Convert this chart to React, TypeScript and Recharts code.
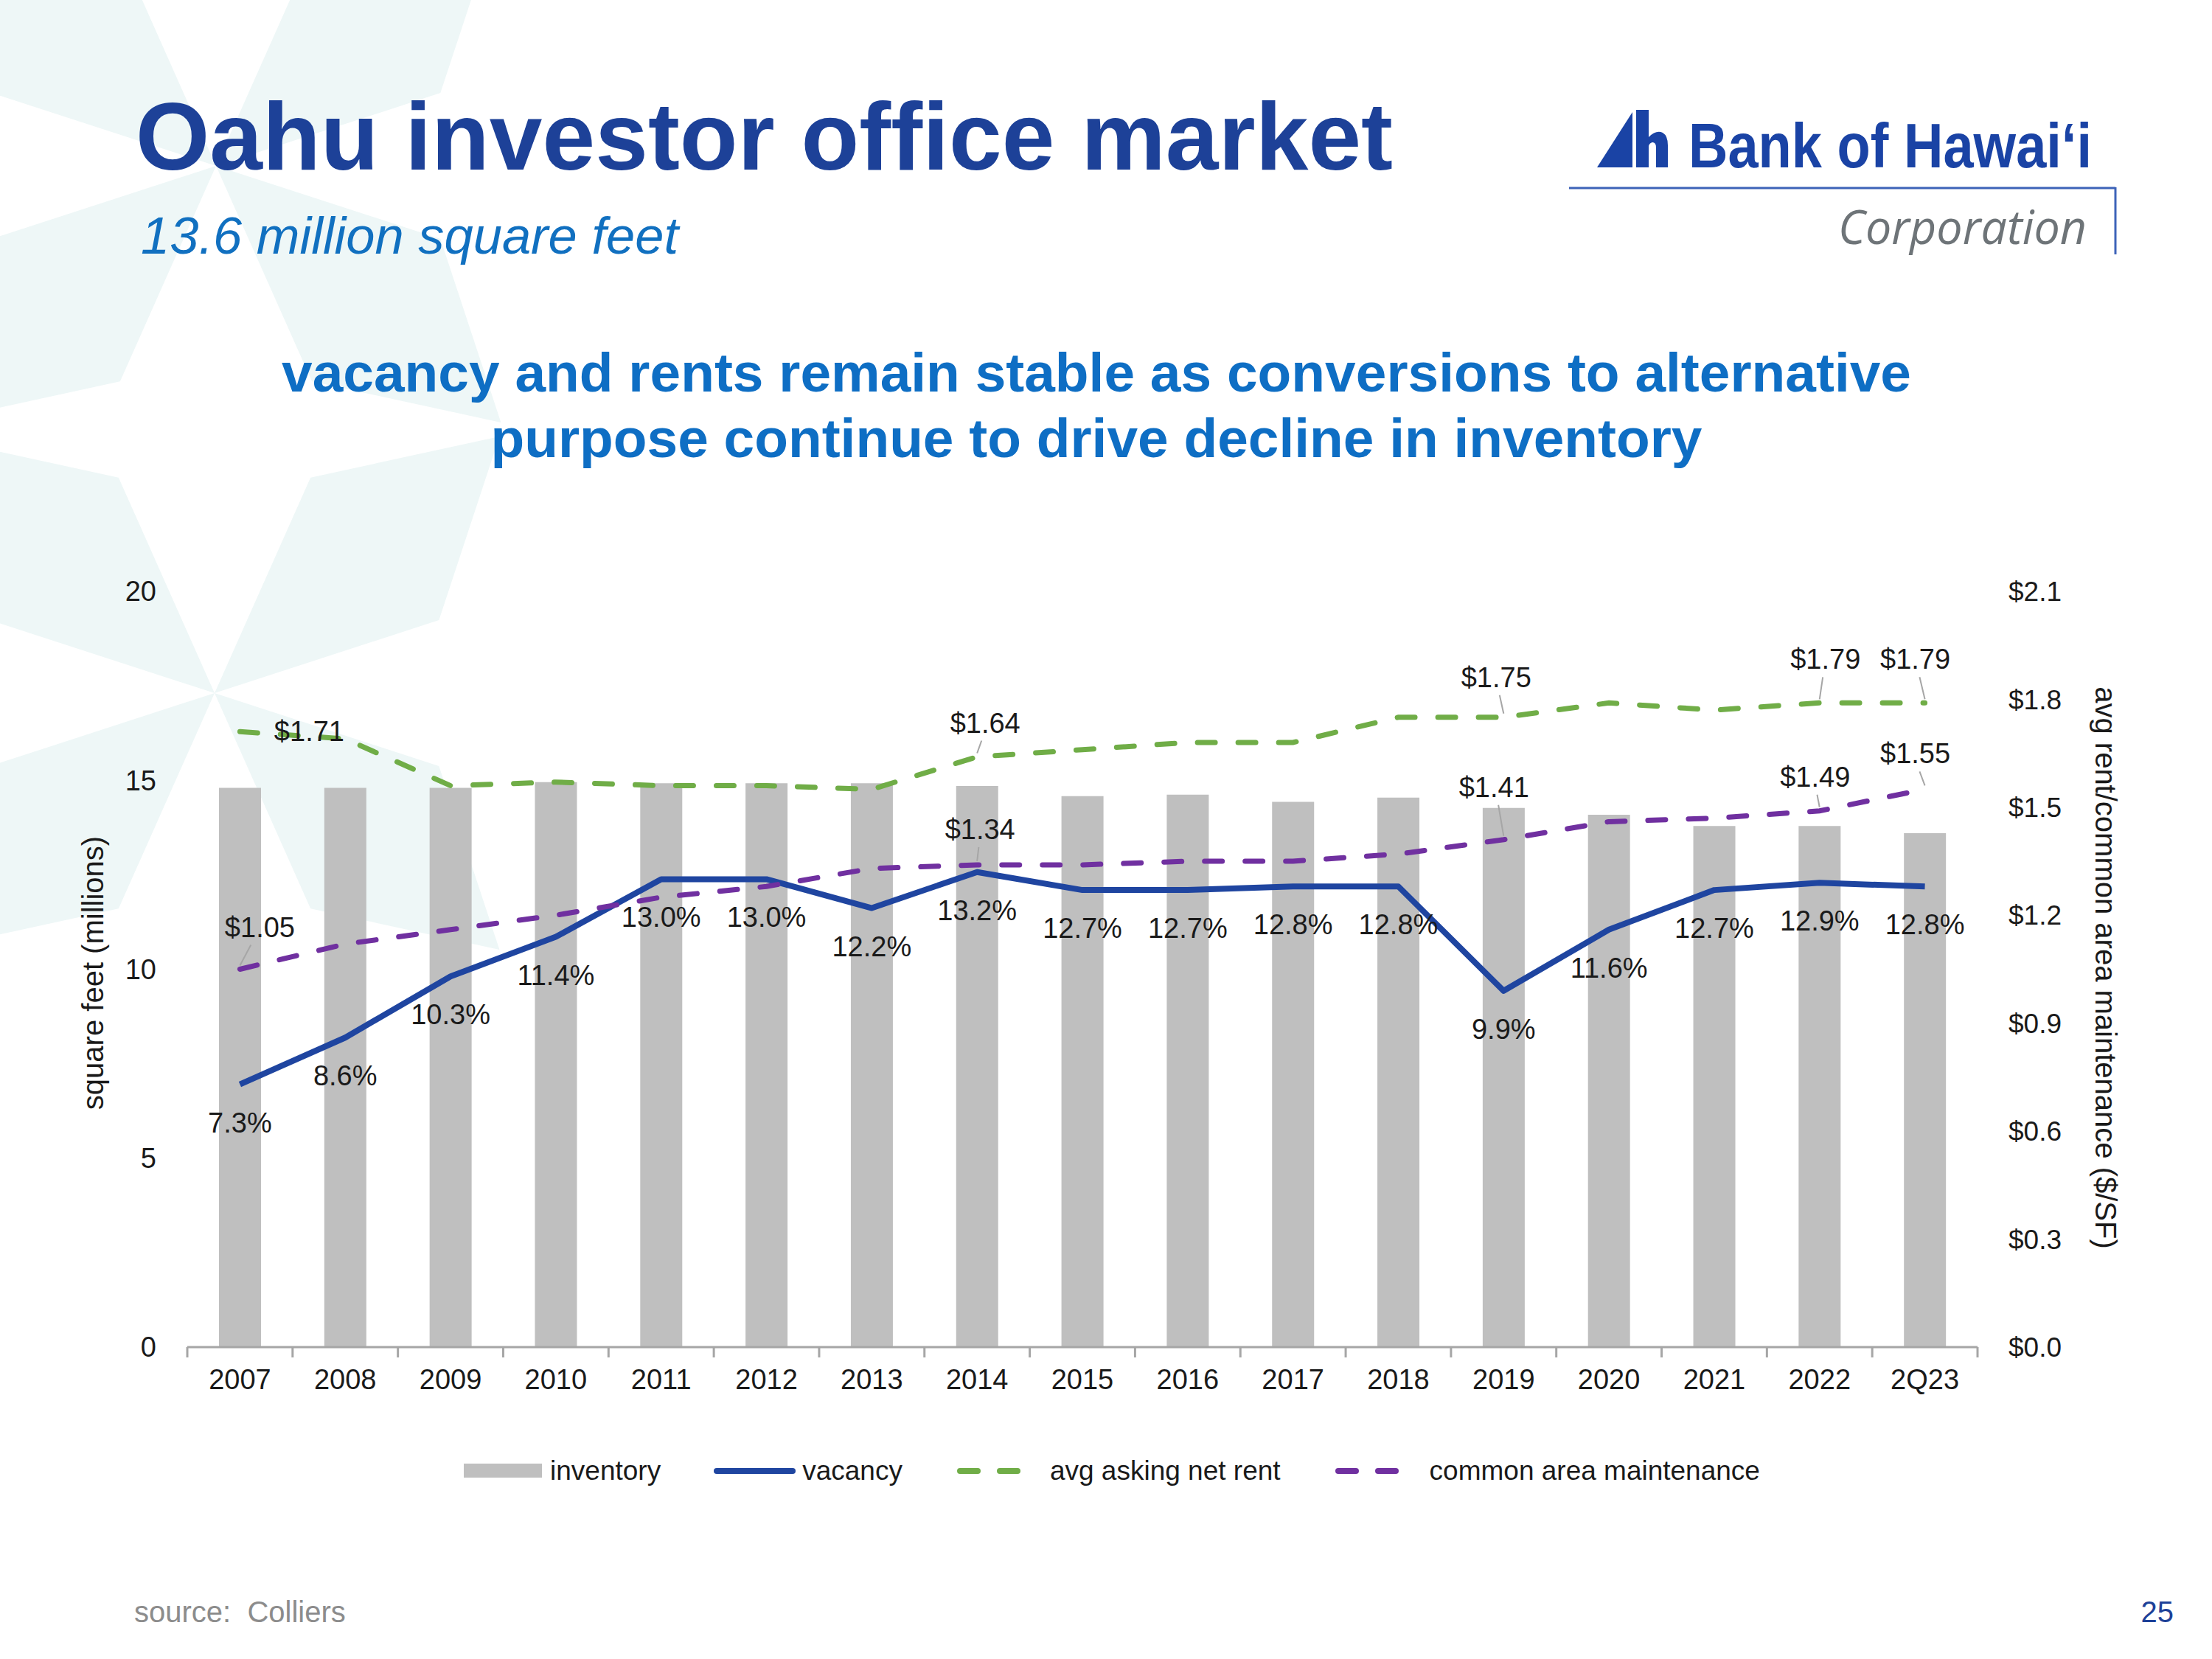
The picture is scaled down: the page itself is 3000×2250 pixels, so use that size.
import React from 'react';
import { ComposedChart, Bar, Line, XAxis, YAxis, Legend, LabelList } from 'recharts';

// ---------- data ----------
const categories = ['2007', '2008', '2009', '2010', '2011', '2012', '2013', '2014', '2015', '2016', '2017', '2018', '2019', '2020', '2021', '2022', '2Q23'];
const inventory = [14.8, 14.8, 14.8, 14.95, 14.92, 14.92, 14.92, 14.85, 14.58, 14.62, 14.43, 14.54, 14.27, 14.09, 13.79, 13.79, 13.6];
const vacancy = [7.3, 8.6, 10.3, 11.4, 13.0, 13.0, 12.2, 13.2, 12.7, 12.7, 12.8, 12.8, 9.9, 11.6, 12.7, 12.9, 12.8];
const askingRent = [1.71, 1.69, 1.56, 1.57, 1.56, 1.56, 1.55, 1.64, 1.66, 1.68, 1.68, 1.75, 1.75, 1.79, 1.77, 1.79, 1.79];
const camCharge = [1.05, 1.12, 1.16, 1.2, 1.25, 1.28, 1.33, 1.34, 1.34, 1.35, 1.35, 1.37, 1.41, 1.46, 1.47, 1.49, 1.55];
const leftTicks = [0, 5, 10, 15, 20];
const rightTicks = [0, 0.3, 0.6, 0.9, 1.2, 1.5, 1.8, 2.1];
const vacancyDomain = [0, 21];
const rentLabelledYears = ['2007', '2014', '2019', '2022', '2Q23'];
const camLabelledYears = ['2007', '2014', '2019', '2022', '2Q23'];

const data = categories.map((cat, i) => ({
  cat,
  inventory: inventory[i],
  vacancy: vacancy[i],
  rent: askingRent[i],
  cam: camCharge[i],
}));

// ---------- styling / layout ----------
const W = 3000;
const H = 2250;
const PLOT = { left: 254, right: 2682, top: 802, bottom: 1827 };
const Y_AXIS_W = 120;
const X_AXIS_H = 90;
const FONT = '"Liberation Sans", Arial, Helvetica, sans-serif';
const BAND_HALF = (PLOT.right - PLOT.left) / categories.length / 2;
const TEXT = '#1a1a1a';
const GREY_AXIS = '#A6A6A6';
const C_BAR = '#BFBFBF';
const C_VAC = '#1F45A0';
const C_RENT = '#70AD47';
const C_CAM = '#7030A0';
const DASH = '24 31';

// label offsets (dx, dy, leader line) per labelled category
const RENT_LABEL_POS: Record<string, [number, number, boolean]> = {
  '2007': [94, 0, false],
  '2014': [11, -46, true],
  '2019': [-10, -54, true],
  '2022': [8, -59, true],
  '2Q23': [-13, -59, true],
};
const CAM_LABEL_POS: Record<string, [number, number, boolean]> = {
  '2007': [27, -57, true],
  '2014': [4, -48, true],
  '2019': [-13, -71, true],
  '2022': [-6, -46, true],
  '2Q23': [-13, -48, true],
};

const XTick = (props: any) => {
  const { x, y, payload, index } = props;
  const last = index === categories.length - 1;
  return (
    <g>
      <line x1={x - BAND_HALF} x2={x - BAND_HALF} y1={y} y2={y + 14} stroke={GREY_AXIS} strokeWidth={3} />
      {last && <line x1={x + BAND_HALF} x2={x + BAND_HALF} y1={y} y2={y + 14} stroke={GREY_AXIS} strokeWidth={3} />}
      <text x={x} y={y + 57} textAnchor="middle" fontSize={38} fill={TEXT} fontFamily={FONT}>
        {payload.value}
      </text>
    </g>
  );
};

const LeftTitle = (props: any) => {
  const vb = props.viewBox || { x: PLOT.left - Y_AXIS_W, y: PLOT.top, width: Y_AXIS_W, height: PLOT.bottom - PLOT.top };
  const cx = vb.x - 8;
  const cy = vb.y + vb.height / 2 + 5;
  return (
    <text x={cx} y={cy} transform={`rotate(-90 ${cx} ${cy})`} textAnchor="middle" dominantBaseline="central"
      fontSize={40} fill={TEXT} fontFamily={FONT}>
      square feet (millions)
    </text>
  );
};

const RightTitle = (props: any) => {
  const vb = props.viewBox || { x: PLOT.right, y: PLOT.top, width: Y_AXIS_W, height: PLOT.bottom - PLOT.top };
  const cx = vb.x + vb.width + 54;
  const cy = vb.y + vb.height / 2 - 2;
  return (
    <text x={cx} y={cy} transform={`rotate(90 ${cx} ${cy})`} textAnchor="middle" dominantBaseline="central"
      fontSize={40} fill={TEXT} fontFamily={FONT}>
      avg rent/common area maintenance ($/SF)
    </text>
  );
};

const VacancyLabel = (props: any) => {
  const { x, y, value } = props;
  if (x == null || y == null) return null;
  return (
    <text x={x} y={y + 52 + 13} textAnchor="middle" fontSize={38} fill={TEXT} fontFamily={FONT}>
      {`${Number(value).toFixed(1)}%`}
    </text>
  );
};

const makeDollarLabel = (labelled: string[], pos: Record<string, [number, number, boolean]>) => (props: any) => {
  const { x, y, value, index } = props;
  const cat = categories[index];
  if (x == null || y == null || !labelled.includes(cat)) return null;
  const [dx, dy, leader] = pos[cat];
  return (
    <g>
      {leader && (
        <line x1={x + dx * 0.55} y1={y + dy + 24} x2={x} y2={y - 5} stroke="#A6A6A6" strokeWidth={2} />
      )}
      <text x={x + dx} y={y + dy + 13} textAnchor="middle" fontSize={38} fill={TEXT} fontFamily={FONT}>
        {`$${Number(value).toFixed(2)}`}
      </text>
    </g>
  );
};

const RentLabel = makeDollarLabel(rentLabelledYears, RENT_LABEL_POS);
const CamLabel = makeDollarLabel(camLabelledYears, CAM_LABEL_POS);

const LegendContent = () => {
  const item = (swatch: React.ReactNode, label: string, gap: number) => (
    <div style={{ display: 'flex', alignItems: 'center' }}>
      {swatch}
      <span style={{ marginLeft: gap, whiteSpace: 'nowrap' }}>{label}</span>
    </div>
  );
  return (
    <div style={{ display: 'flex', justifyContent: 'center', alignItems: 'center', gap: 72, height: 50,
      fontFamily: FONT, fontSize: 37, color: TEXT }}>
      {item(<svg width={106} height={20}><rect x={0} y={0} width={106} height={19} fill={C_BAR} /></svg>, 'inventory', 11)}
      {item(<svg width={111} height={20}><line x1={4} x2={107} y1={10} y2={10} stroke={C_VAC} strokeWidth={8} strokeLinecap="round" /></svg>, 'vacancy', 9)}
      {item(<svg width={96} height={20}><line x1={6} x2={90} y1={10} y2={10} stroke={C_RENT} strokeWidth={8} strokeDasharray="24 30" strokeLinecap="round" /></svg>, 'avg asking net rent', 32)}
      {item(<svg width={96} height={20}><line x1={6} x2={90} y1={10} y2={10} stroke={C_CAM} strokeWidth={8} strokeDasharray="24 30" strokeLinecap="round" /></svg>, 'common area maintenance', 34)}
    </div>
  );
};

// background kites
const kitePoints = (cx: number, cy: number, theta: number) => {
  const rad = (d: number) => (d * Math.PI) / 180;
  const p = (r: number, a: number) => [cx + r * Math.cos(rad(a)), cy + r * Math.sin(rad(a))];
  return [[cx, cy], p(320, theta - 24), p(520, theta), p(320, theta + 24)].map((q) => q.join(',')).join(' ');
};
const STAR_CENTERS = [[293, 225], [291, 940]];
const KITE_ANGLES = [-42, -138, 42, 138];

const Background = () => (
  <svg width={W} height={H} style={{ position: 'absolute', left: 0, top: 0 }}>
    <rect x={0} y={0} width={W} height={H} fill="#FFFFFF" />
    {STAR_CENTERS.map(([cx, cy], i) =>
      KITE_ANGLES.map((a) => <polygon key={`${i}-${a}`} points={kitePoints(cx, cy, a)} fill="#EEF7F7" />)
    )}
    {/* title block */}
    <text x={184} y={230} fontFamily={FONT} fontWeight="bold" fontSize={130} fill="#1D4198"
      textLength={1705} lengthAdjust="spacingAndGlyphs">Oahu investor office market</text>
    <text x={191} y={344} fontFamily={FONT} fontStyle="italic" fontSize={70} fill="#1170C0"
      textLength={729} lengthAdjust="spacingAndGlyphs">13.6 million square feet</text>
    {/* logo */}
    <polygon points="2166,227 2214,152 2214,227" fill="#1A43A5" />
    <path d="M2219,149 L2236,149 L2236,186 Q2246,176 2255,180 Q2262,184 2262,197 L2262,227 L2246,227 L2246,200 Q2246,193 2241,193 Q2237,194 2236,198 L2236,227 L2219,227 Z" fill="#1A43A5" />
    <text x={2290} y={227} fontFamily={FONT} fontWeight="bold" fontSize={86} fill="#1A43A5"
      textLength={547} lengthAdjust="spacingAndGlyphs">Bank of Hawai‘i</text>
    <line x1={2128} y1={255} x2={2869} y2={255} stroke="#3D63B8" strokeWidth={3} />
    <line x1={2869} y1={254} x2={2869} y2={345} stroke="#3D63B8" strokeWidth={3} />
    <text x={2493} y={331} fontFamily={'"Open Sans", "Noto Sans", sans-serif'} fontStyle="italic" fontSize={64} fill="#6E7478"
      textLength={337} lengthAdjust="spacingAndGlyphs">Corporation</text>
    {/* heading */}
    <text x={1487} y={531} textAnchor="middle" fontFamily={FONT} fontWeight="bold" fontSize={75} fill="#0E6EC4"
      textLength={2210} lengthAdjust="spacingAndGlyphs">vacancy and rents remain stable as conversions to alternative</text>
    <text x={1487} y={620} textAnchor="middle" fontFamily={FONT} fontWeight="bold" fontSize={75} fill="#0E6EC4"
      textLength={1643} lengthAdjust="spacingAndGlyphs">purpose continue to drive decline in inventory</text>
    {/* footer */}
    <text x={182} y={2200} fontFamily={FONT} fontSize={40} fill="#8C8C8C" xmlSpace="preserve">source:  Colliers</text>
    <text x={2948} y={2200} textAnchor="end" fontFamily={FONT} fontSize={40} fill="#1D4198">25</text>
  </svg>
);

export default function App() {
  return (
    <div style={{ position: 'absolute', left: 0, top: 0, width: W, height: H, overflow: 'hidden', background: '#fff' }}>
      <Background />
      <div style={{ position: 'absolute', left: 0, top: 0 }}>
        <ComposedChart
          width={W}
          height={H}
          data={data}
          margin={{
            top: PLOT.top,
            bottom: H - PLOT.bottom - X_AXIS_H,
            left: PLOT.left - Y_AXIS_W,
            right: W - PLOT.right - Y_AXIS_W,
          }}
        >
          <XAxis
            dataKey="cat"
            height={X_AXIS_H}
            interval={0}
            axisLine={{ stroke: GREY_AXIS, strokeWidth: 3 }}
            tickLine={false}
            tickSize={0}
            tickMargin={0}
            tick={<XTick />}
          />
          <YAxis
            yAxisId="left"
            orientation="left"
            width={Y_AXIS_W}
            domain={[leftTicks[0], leftTicks[leftTicks.length - 1]]}
            ticks={leftTicks}
            interval={0}
            axisLine={false}
            tickLine={false}
            tickSize={0}
            tickMargin={42}
            tick={{ fontSize: 38, fill: TEXT, fontFamily: FONT }}
            label={<LeftTitle />}
          />
          <YAxis yAxisId="vac" hide domain={vacancyDomain} />
          <YAxis
            yAxisId="right"
            orientation="right"
            width={Y_AXIS_W}
            domain={[rightTicks[0], rightTicks[rightTicks.length - 1]]}
            ticks={rightTicks}
            interval={0}
            axisLine={false}
            tickLine={false}
            tickSize={0}
            tickMargin={42}
            tickFormatter={(v: number) => `$${v.toFixed(1)}`}
            tick={{ fontSize: 37, fill: TEXT, fontFamily: FONT }}
            label={<RightTitle />}
          />
          <Bar yAxisId="left" dataKey="inventory" name="inventory" fill={C_BAR} barSize={57} isAnimationActive={false} />
          <Line yAxisId="vac" type="linear" dataKey="vacancy" name="vacancy" stroke={C_VAC} strokeWidth={8}
            dot={false} activeDot={false} isAnimationActive={false} strokeLinejoin="round">
            <LabelList dataKey="vacancy" content={<VacancyLabel />} />
          </Line>
          <Line yAxisId="right" type="linear" dataKey="rent" name="avg asking net rent" stroke={C_RENT} strokeWidth={7}
            strokeDasharray={DASH} strokeLinecap="round" dot={false} activeDot={false} isAnimationActive={false}>
            <LabelList dataKey="rent" content={RentLabel} />
          </Line>
          <Line yAxisId="right" type="linear" dataKey="cam" name="common area maintenance" stroke={C_CAM} strokeWidth={7}
            strokeDasharray={DASH} strokeLinecap="round" dot={false} activeDot={false} isAnimationActive={false}>
            <LabelList dataKey="cam" content={CamLabel} />
          </Line>
          <Legend
            layout="horizontal"
            verticalAlign="middle"
            align="center"
            content={<LegendContent />}
            wrapperStyle={{ top: 1970, left: 8, width: W, height: 50 }}
          />
        </ComposedChart>
      </div>
    </div>
  );
}
